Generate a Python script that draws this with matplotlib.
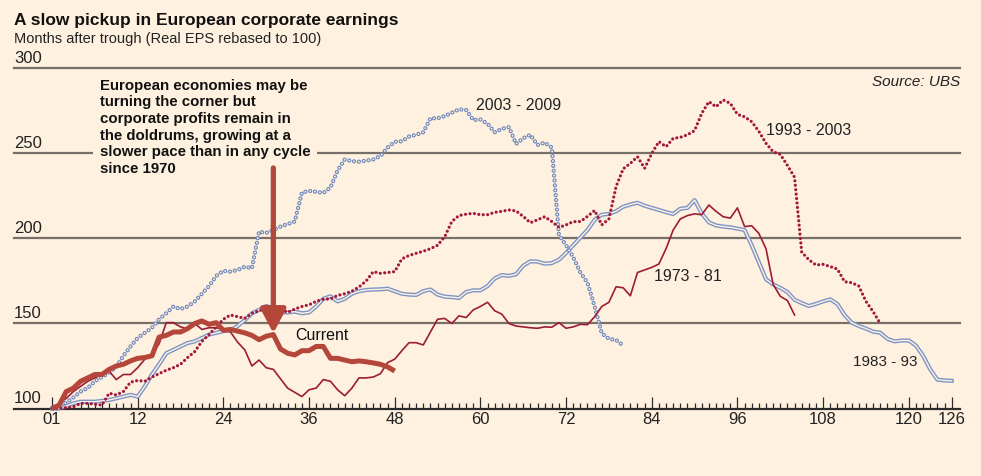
import matplotlib
matplotlib.use("Agg")
import matplotlib.pyplot as plt
from matplotlib.transforms import blended_transform_factory

plt.rcParams['font.family'] = ['Liberation Sans', 'DejaVu Sans']
plt.rcParams['lines.scale_dashes'] = False

# months after trough, real EPS rebased to 100
current = [100, 102, 110, 112, 116, 118, 120, 120, 123, 125, 126, 128, 129.5, 130, 131,
           142, 143, 145, 145, 147, 150, 151.5, 149.5, 150.5, 146, 146.5, 145.5, 144.5, 143,
           140.5, 142.5, 143.5, 135, 132.5, 131.5, 134, 134, 136.5, 136.5, 129.5, 129.5,
           128.5, 127.5, 128, 127.5, 126.8, 126, 124.5, 122]

c1973 = [100, 103, 106, 110, 113, 116, 118, 120, 122, 117, 120, 120, 124, 129, 132,
         138, 150.5, 150.5, 148, 147, 150, 146.5, 147.5, 147.5, 146.5, 145, 139, 134.5, 125,
         128.5, 124, 123, 117.5, 112, 109.5, 107, 111, 112, 117, 116, 111, 107.5, 112, 118,
         118, 118.5, 120.5, 127, 129, 134, 138.7, 138.7, 137.4, 145, 152.5, 153, 150, 154.5,
         153.5, 158, 160, 162.5, 157.5, 155.5, 150, 148.5, 148, 147.5, 147.2, 148, 147.8,
         150.5, 147.2, 148, 149.5, 149.3, 154, 160, 162.5, 171.6, 171, 166.3, 180, 181.5,
         183, 185, 194, 205, 211.5, 213.5, 214.5, 214, 219.7, 216, 212.8, 212, 218, 207,
         207.5, 203, 194, 173, 166, 163.5, 155]

c1993 = [100, 100, 100.5, 101, 103, 103, 102.5, 102, 109, 108, 110, 115.5, 116.5, 116,
         118.5, 120.5, 122.5, 124, 126, 130, 133.5, 139.5, 143.5, 148, 152.5, 155, 154, 153,
         156, 157.5, 159, 160.5, 158.5, 156.5, 158.5, 160, 161, 163, 164.3, 164.5, 166.5,
         167.5, 169, 171.5, 175, 180.5, 179.5, 180, 180.5, 188, 190, 191.3, 192.5, 194, 196,
         201, 210, 213.5, 214.3, 214.8, 214, 214, 215.4, 216, 216.8, 216.2, 213, 209.3, 211,
         212.8, 210, 206.5, 208, 209.9, 210, 213, 216.5, 208, 211.5, 230.5, 241, 244.2,
         248.1, 241.3, 250, 257, 254, 258.9, 259.5, 261, 263.5, 273.6, 280.5, 277.5, 281.5,
         279.5, 273, 271.6, 268.7, 263, 256, 251, 249.5, 243, 236, 192, 187.5, 184.4, 184.8,
         183.5, 182, 174.6, 174, 172, 163, 157, 150]

c1983 = [100, 100, 101.5, 103, 104, 104, 104, 104.5, 105, 106, 107, 108, 107, 113, 120,
         126, 132.5, 134.5, 136.5, 138.5, 139.5, 141.5, 143.5, 144.5, 145.5, 146, 148.5, 152,
         156, 158, 160.3, 159, 156.5, 156.5, 157, 156, 156.5, 160, 164.5, 166, 163, 164.5,
         167.5, 169, 169.7, 170, 170.1, 170.5, 169, 167.5, 167, 166.8, 169, 170, 167, 165.8,
         165.5, 165, 168.5, 169.5, 169.5, 172, 176.5, 178.5, 178, 179, 184, 186.6, 186.4,
         185.2, 185.5, 187.5, 191.5, 196, 200.5, 205, 211, 214, 214.5, 216, 218.7, 220, 221,
         219.3, 218, 216.8, 215.5, 214.4, 217.5, 218, 222.6, 214.8, 209.5, 207.7, 207, 206.6,
         205.8, 205, 196, 186, 176, 173, 171, 168.5, 164, 162, 160.3, 161.5, 163, 164.2,
         161.5, 155, 150.5, 148.5, 147, 145.2, 144.6, 141, 139.5, 140, 140, 137, 131, 123,
         117, 116.5, 116.3]

c2003 = [100, 101, 103.5, 106.5, 110, 112, 116, 118.5, 121, 124.5, 131, 136.5, 141.5,
         144.5, 147.5, 152.5, 156, 160, 158.5, 160, 163, 167.5, 172, 178, 181, 180.5, 181.5,
         183.4, 182.5, 204, 203.3, 205, 207, 208.5, 210, 227, 228, 227.5, 226.8, 230, 240,
         246.5, 245.5, 245.2, 245.8, 246.5, 248.5, 253.5, 256.9, 257.2, 260, 261, 262.5,
         270.7, 270.7, 272, 274, 276, 275.6, 269.7, 270, 267.5, 262.5, 264.5, 265.5, 255.6,
         259, 261, 255, 256.4, 253.5, 202, 196, 189, 180, 174, 160, 144.2, 141, 140.3, 137]

xticks = [0, 12, 24, 36, 48, 60, 72, 84, 96, 108, 120, 126]
xticklabels = ['01', '12', '24', '36', '48', '60', '72', '84', '96', '108', '120', '126']
ylevels = [100, 150, 200, 250, 300]

bg = '#fff1e0'
red = '#b4463a'
darkred = '#9c1c35'
dotred = '#a3183a'
blue = '#7d95c6'
circblue = '#6f88bd'

fig = plt.figure(figsize=(9.81, 4.76), dpi=100, facecolor=bg)
ax = fig.add_axes([14 / 981, 67.5 / 476, 946 / 981, 340 / 476])
ax.set_facecolor(bg)
ax.set_xlim(-5.32, 127.17)
ax.set_ylim(100, 300)
for s in ax.spines.values():
    s.set_visible(False)
ax.set_yticks([])

# grid lines and labels
yt = blended_transform_factory(ax.transAxes, ax.transData)
for v in ylevels:
    if v == 100:
        ax.axhline(v, color='#2b2b2b', lw=1.6, zorder=2, clip_on=False)
    else:
        ax.axhline(v, color='#767069', lw=1.6, zorder=1, clip_on=False)
    ax.text(0, v + 1.6, str(v), transform=yt, fontsize=12, color='#222222',
            ha='left', va='bottom')

ax.set_xticks(xticks)
ax.set_xticklabels(xticklabels)
ax.set_xticks([m for m in range(0, 127) if m not in xticks], minor=True)
ax.tick_params(axis='x', which='major', direction='in', length=8.5, width=0.9,
               color='#2b2b2b', labelsize=12, pad=2.5, labelcolor='#222222')
ax.tick_params(axis='x', which='minor', direction='in', length=4.5, width=0.9,
               color='#2b2b2b')

x73 = range(len(c1973))
x93 = range(len(c1993))
x83 = range(len(c1983))
x03 = range(len(c2003))
xcur = range(len(current))

# 1983-93: double line
ax.plot(x83, c1983, color=blue, lw=3.0, zorder=3, solid_joinstyle='round', clip_on=False)
ax.plot(x83, c1983, color=bg, lw=1.0, zorder=3.1, solid_joinstyle='round', clip_on=False)

# 2003-2009: open circles
ax.plot(x03, c2003, color=circblue, lw=3.1, linestyle=(0, (0.01, 3.5)),
        dash_capstyle='round', zorder=4, clip_on=False)
ax.plot(x03, c2003, color=bg, lw=1.4, linestyle=(0, (0.01, 3.5)),
        dash_capstyle='round', zorder=4.1, clip_on=False)

# 1993-2003: red dots
ax.plot(x93, c1993, color=dotred, lw=2.3, linestyle=(0, (0.01, 3.2)),
        dash_capstyle='round', zorder=4, clip_on=False)

# 1973-81: thin line
ax.plot(x73, c1973, color=darkred, lw=1.2, zorder=5, clip_on=False)

# current: thick line
ax.plot(xcur, current, color=red, lw=3.6, zorder=6, solid_joinstyle='round',
        solid_capstyle='butt', clip_on=False)

# labels
ax.text(65.3, 278.5, '2003 - 2009', fontsize=11.5, color='#222222', va='center', ha='center')
ax.text(106.0, 263.8, '1993 - 2003', fontsize=11.5, color='#222222', va='center', ha='center')
ax.text(89.0, 177.5, '1973 - 81', fontsize=11.5, color='#222222', va='center', ha='center')
ax.text(121.2, 127.5, '1983 - 93', fontsize=11, color='#222222', va='center', ha='right')
ax.text(37.8, 143.2, 'Current', fontsize=11.5, color='#111111', va='center', ha='center')
ax.text(1, 292, 'Source: UBS', transform=yt, fontsize=11, style='italic',
        color='#222222', ha='right', va='center')

note = ('European economies may be\nturning the corner but\ncorporate profits remain in\n'
        'the doldrums, growing at a\nslower pace than in any cycle\nsince 1970')
ax.text(6.72, 294.0, note, fontsize=10.8, fontweight='bold', color='#111111',
        ha='left', va='top', linespacing=1.24, zorder=7,
        bbox=dict(boxstyle='square,pad=0.45', facecolor=bg, edgecolor='none'))

ax.annotate('', xy=(31, 144.2), xytext=(31, 241.5),
            arrowprops=dict(arrowstyle='-|>,head_length=0.8,head_width=0.42',
                            mutation_scale=18, lw=3.8, color=red,
                            shrinkA=0, shrinkB=0), zorder=8)

fig.text(14 / 981, 1 - 25 / 476, 'A slow pickup in European corporate earnings',
         fontsize=12.5, fontweight='bold', color='#111111', ha='left', va='baseline')
fig.text(14 / 981, 1 - 42.7 / 476, 'Months after trough (Real EPS rebased to 100)',
         fontsize=10.5, color='#222222', ha='left', va='baseline')

fig.savefig('out.png', dpi=100, facecolor=bg)
